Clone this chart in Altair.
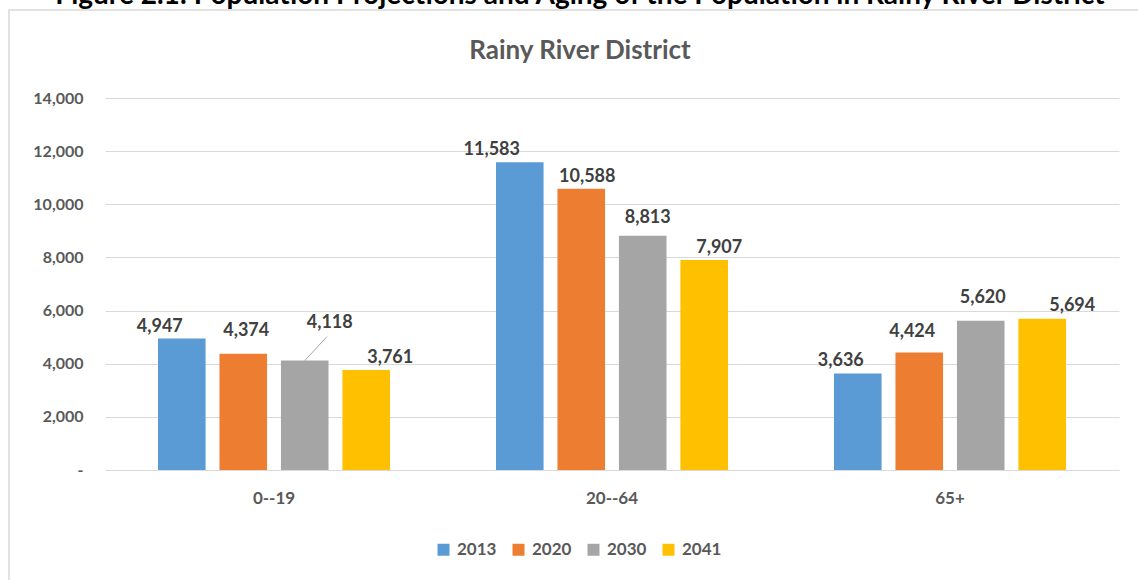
import altair as alt
import pandas as pd

groups = ["0--19", "20--64", "65+"]
years = ["2013", "2020", "2030", "2041"]
v2013 = [4947, 11583, 3636]
v2020 = [4374, 10588, 4424]
v2030 = [4118, 8813, 5620]
v2041 = [3761, 7907, 5694]
y_ticks = [0, 2000, 4000, 6000, 8000, 10000, 12000, 14000]
colors = ["#5B9BD5", "#ED7D31", "#A5A5A5", "#FFC000"]
chart_title = "Rainy River District"
page_title = "Figure 2.1: Population Projections and Aging of the Population in Rainy River District"

rows = []
for yr, vals in zip(years, [v2013, v2020, v2030, v2041]):
    for g, v in zip(groups, vals):
        rows.append({"group": g, "year": yr, "value": v})
df = pd.DataFrame(rows)

# manual label nudges (dx, gap above bar) as in the original Excel chart
nudge = {
    ("0--19", "2013"): (-22, 7), ("0--19", "2020"): (3, 18),
    ("0--19", "2030"): (25, 33), ("0--19", "2041"): (24, 7),
    ("20--64", "2013"): (-28, 7), ("20--64", "2020"): (6, 7),
    ("20--64", "2030"): (5, 13), ("20--64", "2041"): (15, 7),
    ("65+", "2013"): (-17, 7), ("65+", "2020"): (-7, 15),
    ("65+", "2030"): (2, 18), ("65+", "2041"): (30, 8),
}

FONT = "Lato"
GRAY = "#595959"
L, T, R, B = 105, 98, 19, 110
W, H = 1138 - L - R, 580 - T - B

x_enc = alt.X(
    "group:N", sort=groups,
    scale=alt.Scale(paddingInner=0.3136, paddingOuter=0.1568),
    axis=alt.Axis(title=None, labelAngle=0, ticks=False, domain=False,
                  labelFont=FONT, labelFontWeight="bold", labelFontSize=17,
                  labelColor=GRAY, labelPadding=20),
)
xo_enc = alt.XOffset("year:N", sort=years,
                     scale=alt.Scale(paddingInner=0.226, paddingOuter=0))
y_enc = alt.Y(
    "value:Q",
    scale=alt.Scale(domain=[0, 14000], nice=False),
    axis=alt.Axis(title=None, values=y_ticks, grid=True, gridColor="#d9d9d9",
                  gridWidth=1, domain=False, ticks=False, labelPadding=22,
                  labelFont=FONT, labelFontWeight="bold", labelFontSize=16,
                  labelColor=GRAY,
                  labelExpr="datum.value == 0 ? '-\u00a0\u00a0\u00a0' : format(datum.value, ',')"),
)

bars = alt.Chart(df).mark_bar().encode(
    x=x_enc, xOffset=xo_enc, y=y_enc,
    color=alt.Color(
        "year:N", sort=years,
        scale=alt.Scale(domain=years, range=colors),
        legend=alt.Legend(
            title=None, orient="none", direction="horizontal",
            legendX=330, legendY=443, symbolType="square", symbolSize=144,
            symbolStrokeWidth=0, labelFont=FONT, labelFontWeight="bold",
            labelFontSize=17, labelColor=GRAY, labelOffset=5,
            columnPadding=13, padding=0,
        ),
    ),
)

label_layers = []
for (g, yr), (dx, gap) in nudge.items():
    label_layers.append(
        alt.Chart(df).transform_filter(
            (alt.datum.group == g) & (alt.datum.year == yr)
        ).mark_text(
            font=FONT, fontWeight="bold", fontSize=18, color="#404040",
            baseline="alphabetic", align="center", dx=dx, dy=-gap,
        ).encode(
            x=alt.X("group:N", sort=groups), xOffset=alt.XOffset("year:N", sort=years),
            y="value:Q", text=alt.Text("value:Q", format=","),
        )
    )

# leader line of the dragged 4,118 label (x2 is not shifted by xOffset, hence the larger x2Offset)
leader = alt.Chart(df).transform_filter(
    (alt.datum.group == "0--19") & (alt.datum.year == "2030")
).mark_rule(color="#a6a6a6", strokeWidth=1, x2Offset=53, y2Offset=-24).encode(
    x=alt.X("group:N", sort=groups), x2=alt.X2("group:N"),
    xOffset=alt.XOffset("year:N", sort=years),
    y="value:Q", y2=alt.Y2("value:Q"),
)

one = pd.DataFrame({"t": [chart_title]})
frame = alt.Chart(one).mark_rect(fill=None, stroke="#d9d9d9", strokeWidth=1.5).encode(
    x=alt.value(9 - L), x2=alt.value(1300), y=alt.value(10 - T), y2=alt.value(700)
)
title_mark = alt.Chart(one).mark_text(
    font=FONT, fontWeight="bold", fontSize=26, color=GRAY, baseline="alphabetic"
).encode(x=alt.value(580 - L), y=alt.value(59 - T), text="t:N")
page_title_mark = alt.Chart(pd.DataFrame({"t": [page_title]})).mark_text(
    font=FONT, fontWeight="bold", fontSize=28, color="#000000", baseline="alphabetic"
).encode(x=alt.value(580 - L), y=alt.value(4 - T), text="t:N")

chart = alt.layer(frame, bars, leader, *label_layers, title_mark, page_title_mark).properties(
    width=W, height=H,
    autosize=alt.AutoSizeParams(type="none"),
    padding={"left": L, "top": T, "right": R, "bottom": B},
).configure_view(stroke=None)

chart.save("out.html", embed_options={"renderer": "svg", "actions": False})
